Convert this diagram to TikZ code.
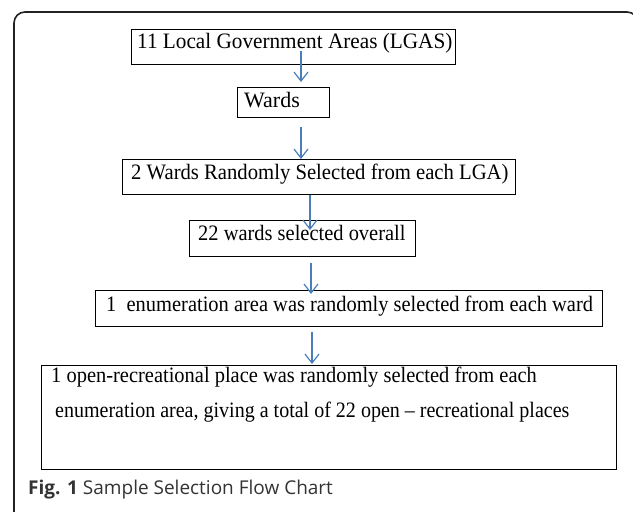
\documentclass[tikz,border=0pt]{standalone}
\usepackage{fontspec}
\setmainfont{Liberation Serif}
\newfontfamily\capfont{Open Sans}
\usetikzlibrary{arrows.meta}
\definecolor{arrblue}{RGB}{74,126,187}
\definecolor{capgray}{RGB}{51,51,51}
\definecolor{framegray}{RGB}{34,34,34}
\newcommand{\sq}[2]{\scalebox{#1}[1]{#2}}
\begin{document}
\begin{tikzpicture}[x=1pt,y=-1pt,
  box/.style={draw=black,line width=1pt,inner sep=0pt,outer sep=0pt},
  txt/.style={anchor=base west,inner sep=0pt,font=\fontsize{22}{26}\selectfont},
  arr/.style={draw=arrblue,line width=1.2pt,-{Straight Barb[length=9pt,width=14pt,line width=1.2pt]}},
  captext/.style={anchor=base west,inner sep=0pt,text=capgray,font=\capfont\fontsize{19}{23}\selectfont}]
\useasboundingbox (0,0) rectangle (633,512);
\fill[white] (0,0) rectangle (633,512);
% frame
\draw[framegray,line width=1.6pt,rounded corners=11pt] (14,518) -- (14,12) -- (638,12) -- (638,518);
% boxes
\node[box,minimum width=324pt,minimum height=35pt] (b1) at (293,46.5) {};
\node[box,minimum width=92pt,minimum height=30pt] (b2) at (283,102) {};
\node[box,minimum width=393pt,minimum height=35pt] (b3) at (318.5,176.5) {};
\node[box,minimum width=226pt,minimum height=36pt] (b4) at (302,238) {};
\node[box,minimum width=507pt,minimum height=36pt] (b5) at (348.5,308) {};
\node[box,minimum width=575pt,minimum height=104pt] (b6) at (328.5,417) {};
% texts
\node[txt] (t1) at (137,48) {\sq{0.965}{11 Local Government Areas (LGAS)}};
\node[txt] (t2) at (244,107) {\sq{1}{Wards}};
\node[txt] (t3) at (131,179) {\sq{0.94}{2 Wards Randomly Selected from each LGA)}};
\node[txt] (t4) at (198,240) {\sq{0.93}{22 wards selected overall}};
\node[txt] (t5) at (106,311) {\sq{0.93}{1~~enumeration area was randomly selected from each ward}};
\node[txt] (t6a) at (51,382) {\sq{0.93}{1 open-recreational place was randomly selected from each}};
\node[txt] (t6b) at (55,417) {\sq{0.91}{enumeration area, giving a total of 22 open – recreational places}};
\node[captext] (caption) at (28,494) {\textbf{Fig. 1} Sample Selection Flow Chart};
% arrows
\draw[arr] ([xshift=8pt,yshift=13pt]b1.south) -- ([xshift=18pt,yshift=5pt]b2.north);
\draw[arr] ([xshift=18pt,yshift=-10pt]b2.south) -- ([xshift=-17.5pt]b3.north);
\draw[arr] ([xshift=-8.5pt,yshift=-1pt]b3.south) -- ([xshift=8pt,yshift=-10pt]b4.north);
\draw[arr] ([xshift=9pt,yshift=-7pt]b4.south) -- ([xshift=-37.5pt,yshift=-4pt]b5.north);
\draw[arr] ([xshift=-36.5pt,yshift=-6pt]b5.south) -- ([xshift=-16.5pt,yshift=1pt]b6.north);
\end{tikzpicture}
\end{document}
